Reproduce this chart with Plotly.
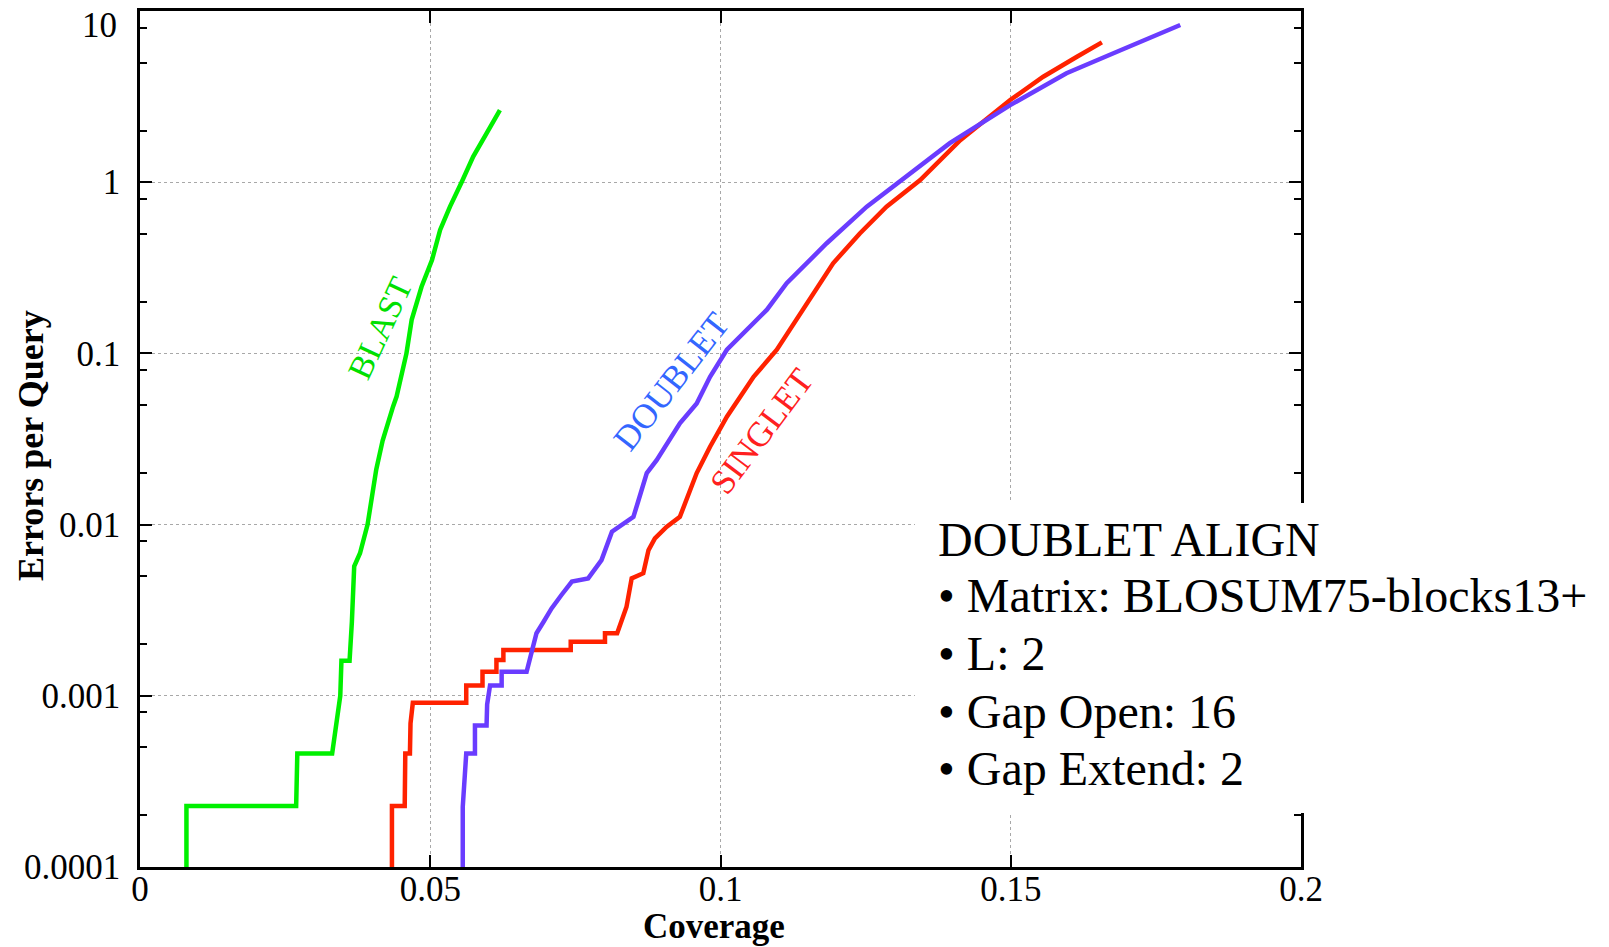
import plotly.graph_objects as go

# ---------------- data ----------------
blast_x = [0.0080, 0.0080, 0.0269, 0.0271, 0.0331, 0.0345, 0.0347, 0.0361, 0.0365, 0.0369,
           0.0379, 0.0392, 0.0407, 0.0418, 0.0436, 0.0442, 0.0459, 0.0468, 0.0485, 0.0503,
           0.0517, 0.0534, 0.0554, 0.0574, 0.0597, 0.0620]
blast_y = [0.0001, 2.27e-4, 2.27e-4, 4.6e-4, 4.6e-4, 1.0e-3, 1.6e-3, 1.6e-3, 2.7e-3, 5.7e-3,
           6.8e-3, 0.010, 0.021, 0.031, 0.049, 0.056, 0.10, 0.157, 0.245, 0.351,
           0.526, 0.72, 1.0, 1.41, 1.93, 2.64]

singlet_x = [0.0434, 0.0434, 0.0456, 0.0457, 0.0465, 0.0466, 0.0470, 0.0562, 0.0562, 0.0590,
             0.0590, 0.0614, 0.0614, 0.0626, 0.0626, 0.0742, 0.0742, 0.0801, 0.0801, 0.0822,
             0.0838, 0.0847, 0.0867, 0.0876, 0.0887, 0.0907, 0.0930, 0.0948, 0.0959, 0.0982,
             0.1011, 0.1034, 0.1057, 0.1097, 0.1137, 0.1194, 0.1240, 0.1286, 0.1344, 0.1413,
             0.1499, 0.1556, 0.1614, 0.1657]
singlet_y = [0.0001, 2.27e-4, 2.27e-4, 4.6e-4, 4.6e-4, 6.9e-4, 9.1e-4, 9.1e-4, 1.15e-3, 1.15e-3,
             1.38e-3, 1.38e-3, 1.62e-3, 1.62e-3, 1.85e-3, 1.85e-3, 2.07e-3, 2.07e-3, 2.32e-3, 2.32e-3,
             3.3e-3, 4.85e-3, 5.2e-3, 7.1e-3, 8.3e-3, 0.0097, 0.0111, 0.0159, 0.020, 0.0285,
             0.0427, 0.0559, 0.073, 0.105, 0.171, 0.336, 0.502, 0.72, 1.03, 1.76,
             3.02, 4.13, 5.4, 6.56]

doublet_x = [0.0556, 0.0556, 0.0562, 0.0577, 0.0577, 0.0597, 0.0598, 0.0603, 0.0623, 0.0623,
             0.0666, 0.0675, 0.0683, 0.0695, 0.0709, 0.0726, 0.0744, 0.0772, 0.0795, 0.0813,
             0.0850, 0.0858, 0.0873, 0.0890, 0.0913, 0.0930, 0.0959, 0.0982, 0.1011, 0.1039,
             0.1080, 0.1114, 0.1183, 0.1252, 0.1326, 0.1395, 0.1499, 0.1596, 0.1683, 0.1792]
doublet_y = [0.0001, 2.25e-4, 4.6e-4, 4.6e-4, 6.7e-4, 6.7e-4, 8.9e-4, 1.15e-3, 1.15e-3, 1.38e-3,
             1.38e-3, 1.85e-3, 2.32e-3, 2.7e-3, 3.24e-3, 3.88e-3, 4.65e-3, 4.85e-3, 6.2e-3, 9.1e-3,
             0.0111, 0.0136, 0.020, 0.0238, 0.0312, 0.0391, 0.051, 0.073, 0.105, 0.131,
             0.18, 0.257, 0.44, 0.72, 1.13, 1.69, 2.82, 4.33, 5.78, 8.28]

x_tickvals = [0, 0.05, 0.1, 0.15, 0.2]
x_ticktext = ["0", "0.05", "0.1", "0.15", "0.2"]
y_tickvals = [0.0001, 0.001, 0.01, 0.1, 1, 10]
# the top label ("10") is drawn separately, nudged below the frame as in the reference
y_ticktext = ["0.0001", "0.001", "0.01", "0.1", "1", ""]
y_top_label = "10"
y_minor_ticks = [0.0002, 0.0005, 0.0008, 0.002, 0.005, 0.008, 0.02, 0.05, 0.08,
                 0.2, 0.5, 0.8, 2, 5, 8]

info_lines = ["DOUBLET ALIGN", "\u2022 Matrix: BLOSUM75-blocks13+", "\u2022 L: 2",
              "\u2022 Gap Open: 16", "\u2022 Gap Extend: 2"]

SERIF = "Liberation Serif, Times New Roman, serif"

fig = go.Figure()
fig.add_trace(go.Scatter(x=blast_x, y=blast_y, mode="lines", name="BLAST",
                         line=dict(color="#00f000", width=4.5), showlegend=False))
fig.add_trace(go.Scatter(x=singlet_x, y=singlet_y, mode="lines", name="SINGLET",
                         line=dict(color="#ff2200", width=4.5), showlegend=False))
fig.add_trace(go.Scatter(x=doublet_x, y=doublet_y, mode="lines", name="DOUBLET",
                         line=dict(color="#6a3cff", width=4.5), showlegend=False))

axis_common = dict(
    showline=True, linecolor="black", linewidth=2.5, mirror="allticks",
    ticks="inside", ticklen=12, tickwidth=2, tickcolor="black",
    showgrid=True, gridcolor="#a8a8a8", griddash="dot", gridwidth=1,
    zeroline=False, tickfont=dict(family=SERIF, size=35, color="black"),
    ticklabeloverflow="allow", automargin=False,
)

fig.update_layout(
    width=1609, height=947,
    margin=dict(l=140, r=308, t=11, b=80, autoexpand=False),
    paper_bgcolor="white", plot_bgcolor="white",
    xaxis=dict(range=[0, 0.2], tickmode="array", tickvals=x_tickvals, ticktext=x_ticktext,
               ticklabelstandoff=-11, **axis_common),
    yaxis=dict(type="log", range=[-4, 1], tickmode="array", tickvals=y_tickvals,
               ticktext=y_ticktext, ticklabelstandoff=10,
               minor=dict(tickmode="array", tickvals=y_minor_ticks, ticks="inside",
                          ticklen=7, tickwidth=2, tickcolor="black", showgrid=False),
               **axis_common),
)

fig.add_annotation(x=-0.0181, y=0.9825, xref="paper", yref="paper", text=y_top_label,
                   showarrow=False, xanchor="right", yanchor="middle",
                   font=dict(family=SERIF, size=35, color="black"))

# curve labels
fig.add_annotation(x=0.0413, y=-0.852, xref="x", yref="y", text="BLAST", showarrow=False,
                   textangle=-65, font=dict(family=SERIF, size=34, color="#00e000"))
fig.add_annotation(x=0.0916, y=-1.165, xref="x", yref="y", text="DOUBLET", showarrow=False,
                   textangle=-52, font=dict(family=SERIF, size=35, color="#3366ff"))
fig.add_annotation(x=0.1071, y=-1.457, xref="x", yref="y", text="SINGLET", showarrow=False,
                   textangle=-53, font=dict(family=SERIF, size=35, color="#ff2020"))

# axis titles
fig.add_annotation(x=0.494, y=-0.0695, xref="paper", yref="paper", text="<b>Coverage</b>",
                   showarrow=False, xanchor="center", yanchor="middle",
                   font=dict(family=SERIF, size=35, color="black"))
fig.add_annotation(x=-0.0939, y=0.493, xref="paper", yref="paper", text="<b>Errors per Query</b>",
                   showarrow=False, xanchor="center", yanchor="middle", textangle=-90,
                   font=dict(family=SERIF, size=36, color="black"))

# white info box covering part of the plot
fig.add_shape(type="rect", xref="paper", yref="paper", x0=0.6675, x1=1.3, y0=0.0631, y1=0.4252,
              fillcolor="white", line=dict(width=0), layer="above")
info_y = [0.3824, 0.3166, 0.2500, 0.1822, 0.1156]
for txt, yy in zip(info_lines, info_y):
    fig.add_annotation(x=0.686, y=yy, xref="paper", yref="paper", text=txt, showarrow=False,
                       xanchor="left", yanchor="middle",
                       font=dict(family=SERIF, size=48, color="black"))

fig.write_html("out.html", config={"displayModeBar": False},
               post_script="document.body.style.margin='0';")
